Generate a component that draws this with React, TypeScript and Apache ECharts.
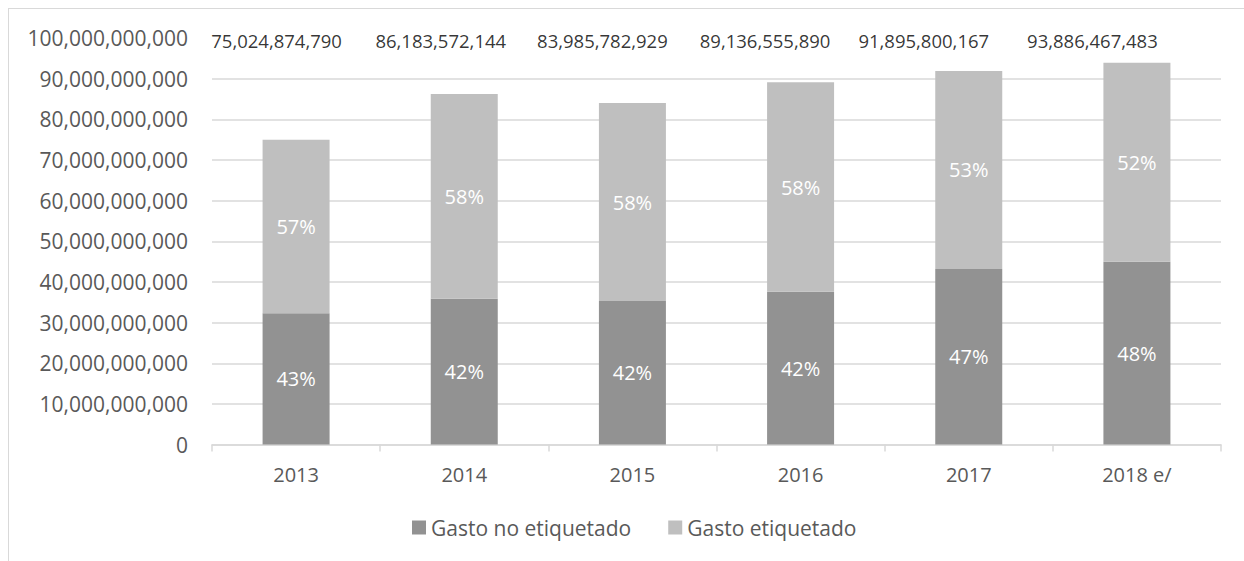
import React, { useEffect, useRef } from "react";
import * as echarts from "echarts";

const categories = ["2013", "2014", "2015", "2016", "2017", "2018 e/"];
const totals = [75024874790, 86183572144, 83985782929, 89136555890, 91895800167, 93886467483];
const noEtiquetado = [32.3e9, 35.9e9, 35.3e9, 37.6e9, 43.2e9, 45.0e9];
const etiquetado = [42.7e9, 50.3e9, 48.7e9, 51.5e9, 48.7e9, 48.9e9];
const noEtiquetadoPct = ["43%", "42%", "42%", "42%", "47%", "48%"];
const etiquetadoPct = ["57%", "58%", "58%", "58%", "53%", "52%"];
const Y_MAX = 100000000000;
const Y_STEP = 10000000000;

// layout: horizontal shift of each total text box (placed by hand in the original)
const TOTAL_LABEL_SHIFT = [-19.5, -23.5, -30, -35.5, -45, -44.5];

const FONT = "'Open Sans', sans-serif";
const TEXT = "#595959";
const GRID = "#d9d9d9";

export default function App() {
  const ref = useRef<HTMLDivElement>(null);
  useEffect(() => {
    if (!ref.current) return;
    const chart = echarts.init(ref.current, null, { renderer: "svg" });
    const splitColors = Array.from({ length: 11 }, (_, i) => (i === 10 ? "rgba(0,0,0,0)" : GRID));
    chart.setOption({
      animation: false,
      textStyle: { fontFamily: FONT },
      grid: { left: 203, right: 39, top: 29, bottom: 125.4, containLabel: false },
      legend: {
        data: ["Gasto no etiquetado", "Gasto etiquetado"],
        left: 398,
        top: 503,
        itemWidth: 14,
        itemHeight: 14,
        itemGap: 37,
        icon: "rect",
        textStyle: { color: TEXT, fontSize: 21, fontFamily: FONT },
      },
      xAxis: {
        type: "category",
        data: categories,
        axisLine: { lineStyle: { color: GRID, width: 1.5 } },
        axisTick: { show: true, length: 7, lineStyle: { color: GRID, width: 1.5 } },
        axisLabel: { color: TEXT, fontSize: 20, fontFamily: FONT, margin: 20 },
      },
      yAxis: {
        type: "value",
        min: 0,
        max: Y_MAX,
        interval: Y_STEP,
        axisLine: { show: false },
        axisTick: { show: false },
        splitLine: { lineStyle: { color: splitColors, width: 1.5 } },
        axisLabel: {
          color: TEXT,
          fontSize: 21,
          fontFamily: FONT,
          margin: 24,
          formatter: (v: number) => v.toLocaleString("en-US"),
        },
      },
      series: [
        {
          name: "Gasto no etiquetado",
          type: "bar",
          stack: "total",
          barWidth: 67,
          data: noEtiquetado,
          itemStyle: { color: "#929292" },
          label: {
            show: true,
            position: "inside",
            color: "#ffffff",
            fontSize: 20,
            fontFamily: FONT,
            formatter: (p: any) => noEtiquetadoPct[p.dataIndex],
          },
        },
        {
          name: "Gasto etiquetado",
          type: "bar",
          stack: "total",
          barWidth: 67,
          data: etiquetado,
          itemStyle: { color: "#bfbfbf" },
          label: {
            show: true,
            position: "inside",
            color: "#ffffff",
            fontSize: 20,
            fontFamily: FONT,
            formatter: (p: any) => etiquetadoPct[p.dataIndex],
          },
        },
        {
          name: "Total",
          type: "scatter",
          symbolSize: 0,
          silent: true,
          data: categories.map((_, i) => ({
            value: Y_MAX,
            label: { offset: [TOTAL_LABEL_SHIFT[i], 2] },
          })),
          label: {
            show: true,
            position: "inside",
            color: "#000000",
            fontSize: 18.5,
            fontFamily: FONT,
            formatter: (p: any) => totals[p.dataIndex].toLocaleString("en-US"),
          },
        },
      ],
    });
    return () => chart.dispose();
  }, []);

  return (
    <div style={{ position: "fixed", left: 0, top: 0, width: "100vw", height: "100vh", overflow: "hidden", background: "#fff" }}>
      <div
        style={{
          position: "absolute",
          left: 8,
          top: 8,
          width: 1251,
          height: 561,
          border: "1px solid #d9d9d9",
          boxSizing: "content-box",
        }}
      >
        <div ref={ref} style={{ width: 1251, height: 561 }} />
      </div>
    </div>
  );
}
